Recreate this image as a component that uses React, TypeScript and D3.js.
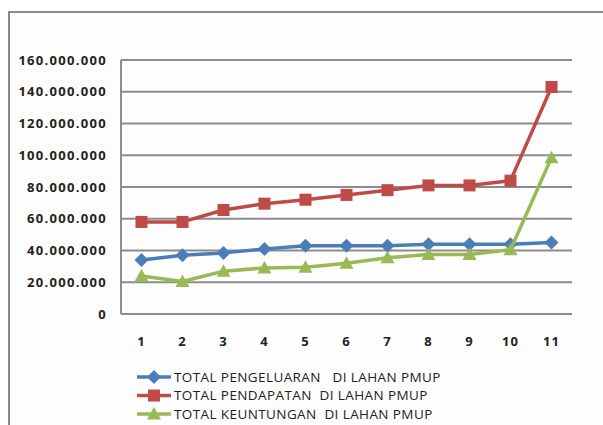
import React from "react";
import * as d3 from "d3";

const categories = ["1", "2", "3", "4", "5", "6", "7", "8", "9", "10", "11"];
const pengeluaran = [34, 37, 38.5, 41, 43, 43, 43, 44, 44, 44, 45].map((v) => v * 1e6);
const pendapatan = [58, 58, 65.5, 69.5, 72, 75, 78, 81, 81, 84, 143].map((v) => v * 1e6);
const keuntungan = [24, 20.5, 27, 29, 29.5, 32, 35.5, 37.5, 37.5, 40.5, 98.5].map((v) => v * 1e6);
const yTicks = [0, 20e6, 40e6, 60e6, 80e6, 100e6, 120e6, 140e6, 160e6];
const seriesNames = [
  "TOTAL PENGELUARAN   DI LAHAN PMUP",
  "TOTAL PENDAPATAN  DI LAHAN PMUP",
  "TOTAL KEUNTUNGAN  DI LAHAN PMUP",
];
const colors = ["#4A7EBB", "#BE4B48", "#98B954"];
const markers = ["diamond", "square", "triangle"];

const fmt = (v: number) => (v === 0 ? "0" : d3.format(",")(v).replace(/,/g, "."));

function Marker({ type, x, y, color }: { type: string; x: number; y: number; color: string }) {
  if (type === "diamond") {
    const s = 7;
    return <path d={`M${x},${y - s}L${x + s},${y}L${x},${y + s}L${x - s},${y}Z`} fill={color} />;
  }
  if (type === "square") {
    const s = 6;
    return <rect x={x - s} y={y - s} width={2 * s} height={2 * s} fill={color} />;
  }
  const s = 7;
  return <path d={`M${x},${y - s}L${x + s},${y + s * 0.8}L${x - s},${y + s * 0.8}Z`} fill={color} />;
}

export default function App() {
  const W = 603, H = 425;
  const left = 121, right = 572, top = 60, bottom = 314;
  const x = d3.scaleBand().domain(categories).range([left, right]);
  const xc = (c: string) => (x(c) as number) + x.bandwidth() / 2;
  const y = d3.scaleLinear().domain([0, 160e6]).range([bottom, top]);
  const all = [pengeluaran, pendapatan, keuntungan];
  const line = d3
    .line<number>()
    .x((_, i) => xc(categories[i]))
    .y((d) => y(d));
  const font = "'Open Sans', 'Liberation Sans', sans-serif";

  return (
    <svg width={W} height={H} style={{ position: "absolute", left: 0, top: 0, background: "#fff" }}>
      <rect x={9} y={12} width={W} height={H} fill="#fdfdfd" stroke="#8a8a8a" strokeWidth={2} />
      {yTicks.map((t) => (
        <g key={t}>
          {t > 0 && <line x1={left} x2={right} y1={y(t)} y2={y(t)} stroke="#8c8c8c" strokeWidth={2} />}
          <text
            x={107}
            y={y(t)}
            dy="0.35em"
            textAnchor="end"
            fontFamily={font}
            fontWeight="bold"
            fontSize={13}
            letterSpacing={1.3}
            fill="#222"
          >
            {fmt(t)}
          </text>
        </g>
      ))}
      <line x1={left} x2={left} y1={top} y2={bottom} stroke="#8c8c8c" strokeWidth={2} />
      <line x1={left} x2={right} y1={bottom} y2={bottom} stroke="#8c8c8c" strokeWidth={2} />
      {categories.map((c) => (
        <text
          key={c}
          x={xc(c)}
          y={341}
          dy="0.35em"
          textAnchor="middle"
          fontFamily={font}
          fontWeight="bold"
          fontSize={13}
          letterSpacing={1}
          fill="#222"
        >
          {c}
        </text>
      ))}
      {all.map((s, si) => (
        <g key={si}>
          <path d={line(s) as string} fill="none" stroke={colors[si]} strokeWidth={3.5} strokeLinejoin="round" />
          {s.map((v, i) => (
            <Marker key={i} type={markers[si]} x={xc(categories[i])} y={y(v)} color={colors[si]} />
          ))}
        </g>
      ))}
      {seriesNames.map((n, i) => {
        const ly = 377 + i * 18.5;
        return (
          <g key={n}>
            <line x1={137} x2={171} y1={ly} y2={ly} stroke={colors[i]} strokeWidth={3.5} />
            <Marker type={markers[i]} x={154} y={ly} color={colors[i]} />
            <text
              x={174}
              y={ly}
              dy="0.35em"
              fontFamily={font}
              fontSize={13.5}
              letterSpacing={0.4}
              fill="#222"
              style={{ whiteSpace: "pre" }}
            >
              {n}
            </text>
          </g>
        );
      })}
    </svg>
  );
}
